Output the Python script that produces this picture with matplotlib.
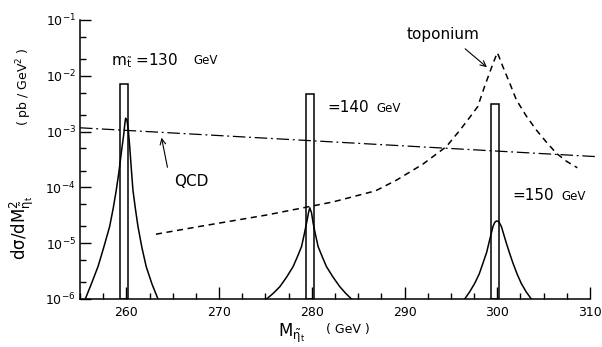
import matplotlib.pyplot as plt
from matplotlib.ticker import MultipleLocator, LogLocator, NullFormatter, FixedLocator

plt.rcParams.update({
    "font.family": "DejaVu Sans",
    "mathtext.fontset": "dejavusans",
    "mathtext.default": "regular",
})

# Signal curves (mass in GeV, cross section in pb/GeV^2)
m130 = [255.57, 256.22, 256.94, 257.55, 258.20, 258.59, 258.91, 259.20, 259.45, 259.71, 259.85, 259.92,
        260.06, 260.21, 260.36, 260.53, 260.71, 260.96, 261.25, 261.68, 262.14, 262.76, 263.41]
s130 = [1.0e-6, 1.86e-6, 3.8e-6, 8.3e-6, 2.0e-5, 4.3e-5, 8.9e-5, 1.9e-4, 4.1e-4, 8.7e-4, 1.45e-3, 1.74e-3,
        1.62e-3, 1.07e-3, 5.4e-4, 2.2e-4, 8.9e-5, 4.3e-5, 2.0e-5, 8.3e-6, 3.8e-6, 1.86e-6, 1.0e-6]

m140 = [275.12, 275.83, 276.55, 277.27, 277.98, 278.46, 278.89, 279.17, 279.43, 279.64, 279.78,
        279.97, 280.14, 280.40, 280.68, 281.11, 281.58, 282.30, 283.02, 283.66, 284.28]
s140 = [1.0e-6, 1.26e-6, 1.66e-6, 2.45e-6, 3.8e-6, 5.8e-6, 8.7e-6, 1.41e-5, 2.3e-5, 3.5e-5, 4.3e-5,
        3.5e-5, 2.3e-5, 1.41e-5, 8.7e-6, 5.8e-6, 3.8e-6, 2.45e-6, 1.66e-6, 1.26e-6, 1.0e-6]

m150 = [296.49, 297.03, 297.56, 298.05, 298.46, 298.86, 299.18, 299.54, 299.72, 299.90,
        300.15, 300.44, 300.69, 300.98, 301.33, 301.69, 302.14, 302.59, 303.11, 303.67]
s150 = [1.0e-6, 1.35e-6, 1.9e-6, 2.8e-6, 4.4e-6, 6.9e-6, 1.15e-5, 2.0e-5, 2.35e-5, 2.5e-5,
        2.45e-5, 2.0e-5, 1.45e-5, 1.0e-5, 6.6e-6, 4.4e-6, 2.8e-6, 1.9e-6, 1.35e-6, 1.0e-6]

# Toponium (dashed)
m_top = [263.19, 267.93, 275.12, 282.30, 286.89, 289.13, 291.96, 294.52, 295.95, 297.03, 297.89,
         298.64, 299.54, 299.83, 300.01, 300.26, 300.61, 301.34, 302.06, 303.13, 304.21, 305.29,
         306.37, 307.45, 308.63]
s_top = [1.45e-5, 2.0e-5, 3.2e-5, 5.5e-5, 8.7e-5, 1.35e-4, 2.6e-4, 5.4e-4, 1.05e-3, 1.8e-3, 2.8e-3,
         6.5e-3, 1.66e-2, 2.2e-2, 2.6e-2, 2.05e-2, 1.45e-2, 7.4e-3, 3.7e-3, 1.9e-3, 1.07e-3, 6.5e-4,
         4.1e-4, 2.95e-4, 2.25e-4]

# QCD background (dash-dot)
m_qcd = [255.0, 310.8]
s_qcd = [1.17e-3, 3.55e-4]

# Narrow-width bars
bar_mass = [259.75, 279.78, 299.75]
bar_top = [7.1e-3, 4.7e-3, 3.1e-3]
bar_width = 0.9

fig = plt.figure(figsize=(6.02, 3.47), dpi=100)
ax = fig.add_axes([80 / 602, 48 / 347, 510 / 602, 279 / 347])

ymin = 1e-6
ax.bar(bar_mass, [t - ymin for t in bar_top], bottom=ymin, width=bar_width,
       fill=False, edgecolor="black", linewidth=1.1, zorder=3)

for mm, ss in [(m130, s130), (m140, s140), (m150, s150)]:
    ax.plot(mm, ss, color="black", lw=1.1)

ax.plot(m_top, s_top, color="black", lw=1.1, dashes=(4, 3))
ax.plot(m_qcd, s_qcd, color="black", lw=0.9, dashes=(10, 3, 1.5, 3), clip_on=False)

ax.set_yscale("log")
ax.set_xlim(255, 310)
ax.set_ylim(1e-6, 1e-1)

ax.spines["top"].set_visible(False)
ax.spines["right"].set_visible(False)
for s in ["left", "bottom"]:
    ax.spines[s].set_linewidth(1.1)

ax.xaxis.set_major_locator(FixedLocator([260, 270, 280, 290, 300, 310]))
ax.xaxis.set_minor_locator(MultipleLocator(2.5))
ax.yaxis.set_major_locator(LogLocator(base=10, numticks=10))
ax.yaxis.set_minor_locator(LogLocator(base=10, subs=(2.0, 5.0), numticks=10))
ax.yaxis.set_minor_formatter(NullFormatter())

ax.tick_params(which="both", direction="in", width=1, labelsize=9)
ax.tick_params(axis="x", which="major", length=8.5, pad=5)
ax.tick_params(axis="x", which="minor", length=4.5)
ax.tick_params(axis="y", which="major", length=8, pad=3)
ax.tick_params(axis="y", which="minor", length=4.5)

# Annotations
ax.text(111 / 602, 1 - 61 / 347, r"$m_{\tilde{t}}$ =130", transform=fig.transFigure,
        fontsize=11, va="center", ha="left")
ax.text(193 / 602, 1 - 61 / 347, "GeV", transform=fig.transFigure,
        fontsize=8.5, va="center", ha="left")
ax.text(327 / 602, 1 - 108 / 347, "=140", transform=fig.transFigure,
        fontsize=11, va="center", ha="left")
ax.text(376 / 602, 1 - 108 / 347, "GeV", transform=fig.transFigure,
        fontsize=8.5, va="center", ha="left")
ax.text(512 / 602, 1 - 196 / 347, "=150", transform=fig.transFigure,
        fontsize=11, va="center", ha="left")
ax.text(561 / 602, 1 - 196 / 347, "GeV", transform=fig.transFigure,
        fontsize=8.5, va="center", ha="left")
ax.text(443 / 602, 1 - 35 / 347, "toponium", transform=fig.transFigure,
        fontsize=11, va="center", ha="center")
ax.text(191 / 602, 1 - 181 / 347, "QCD", transform=fig.transFigure,
        fontsize=11, va="center", ha="center")

ax.annotate("", xy=(161 / 602, 1 - 135 / 347), xytext=(168 / 602, 1 - 170 / 347),
            xycoords="figure fraction", textcoords="figure fraction",
            arrowprops=dict(arrowstyle="->", lw=0.8, color="black"))
ax.annotate("", xy=(489 / 602, 1 - 69 / 347), xytext=(463 / 602, 1 - 47 / 347),
            xycoords="figure fraction", textcoords="figure fraction",
            arrowprops=dict(arrowstyle="->", lw=0.8, color="black"))

# Axis labels
fig.text(22 / 602, 1 - 228 / 347, r"$d\sigma/dM^2_{\tilde{\eta}_t}$", rotation=90,
         fontsize=12, va="center", ha="center")
fig.text(24 / 602, 1 - 87 / 347, r"( pb / GeV$^2$ )", rotation=90,
         fontsize=9, va="center", ha="center")
fig.text(292 / 602, 1 - 333 / 347, r"$M_{\tilde{\eta}_t}$", fontsize=12,
         va="center", ha="center")
fig.text(348 / 602, 1 - 330 / 347, "( GeV )", fontsize=9, va="center", ha="center")

fig.savefig("out.png", dpi=100)
